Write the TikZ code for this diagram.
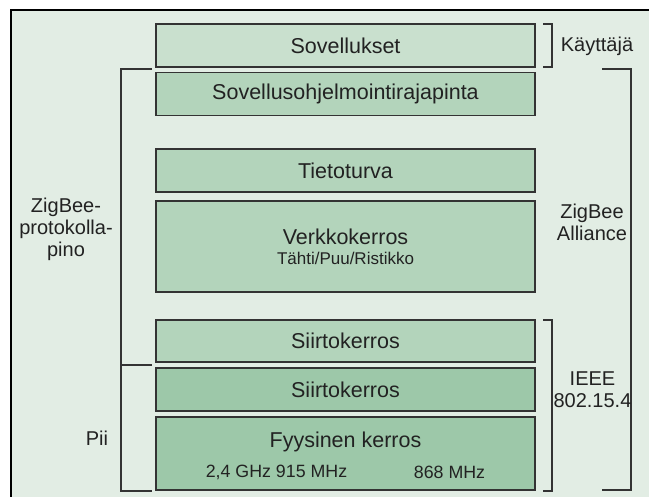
\documentclass[tikz,border=0pt]{standalone}
\usepackage{fontspec}
\setmainfont{Liberation Sans}
\definecolor{bgc}{HTML}{E2EDE4}
\definecolor{lightc}{HTML}{C9E0CE}
\definecolor{midc}{HTML}{B3D4BB}
\definecolor{darkc}{HTML}{9DC8A9}
\definecolor{linec}{HTML}{333333}
\definecolor{txtc}{HTML}{222222}
\tikzset{
  layer/.style={draw=linec, line width=1.4pt, minimum width=379pt, inner sep=0pt, text=txtc, font=\fontsize{21.5}{24}\selectfont},
  sidelabel/.style={text=txtc, align=center, inner sep=0pt, font=\fontsize{20}{22}\selectfont},
  sublabel/.style={text=txtc, inner sep=0pt},
  brk/.style={draw=linec, line width=1.2pt}
}
\begin{document}
\begin{tikzpicture}[x=1pt,y=-1pt]
\useasboundingbox (0,0) rectangle (649,497);
\fill[bgc] (11,10) rectangle (649,497);
\draw[black, line width=2.2pt] (11,497) -- (11,10) -- (649,10);

% layers
\node[layer, fill=lightc, minimum height=43pt] (sov) at (345.5,45.5) {Sovellukset};
\node[layer, fill=midc, minimum height=43pt] (api) at (345.5,94) {Sovellusohjelmointirajapinta};
\node[layer, fill=midc, minimum height=43pt] (tt) at (345.5,170.5) {Tietoturva};
\node[layer, fill=midc, minimum height=91pt] (vk) at (345.5,246.5) {};
\node[layer, draw=none, minimum width=0pt] (vkt) at (345.5,237) {Verkkokerros};
\node[sublabel, font=\fontsize{17}{20}\selectfont] (vks) at (345.5,258.5) {Tähti/Puu/Ristikko};
\node[layer, fill=midc, minimum height=42pt] (s1) at (345.5,341) {Siirtokerros};
\node[layer, fill=darkc, minimum height=43pt] (s2) at (345.5,389.5) {Siirtokerros};
\node[layer, fill=darkc, minimum height=73pt] (fy) at (345.5,453.5) {};
\node[layer, draw=none, minimum width=0pt] (fyt) at (345.5,442) {Fyysinen kerros};
\node[sublabel, font=\fontsize{17.8}{20}\selectfont] (f1) at (276.5,472.5) {2,4 GHz 915 MHz};
\node[sublabel, font=\fontsize{17.8}{20}\selectfont] (f2) at (449.5,472.5) {868 MHz};

% left brackets
\coordinate (lt) at (152,69);
\coordinate (lm) at (152,365);
\coordinate (lb) at (152,491);
\draw[brk] (lt) -- (121,69) -- (121,491) -- (lb);
\draw[brk] (121,365) -- (lm);

% right inner brackets
\draw[brk] (543,24) -- (552,24) -- (552,67) -- (543,67);
\draw[brk] (543,320) -- (552,320) -- (552,491) -- (543,491);
% right outer bracket
\draw[brk] (602,69) -- (631,69) -- (631,490) -- (602,490);

% side labels
\node[sidelabel] (kay) at (597,46) {Käyttäjä};
\node[sidelabel] (zbp) at (66,229) {ZigBee-\\protokolla-\\pino};
\node[sidelabel] (pii) at (97,438) {Pii};
\node[sidelabel] (zba) at (592,222) {ZigBee\\Alliance};
\node[sidelabel] (ieee) at (592.5,390) {IEEE\\802.15.4};
\end{tikzpicture}
\end{document}
